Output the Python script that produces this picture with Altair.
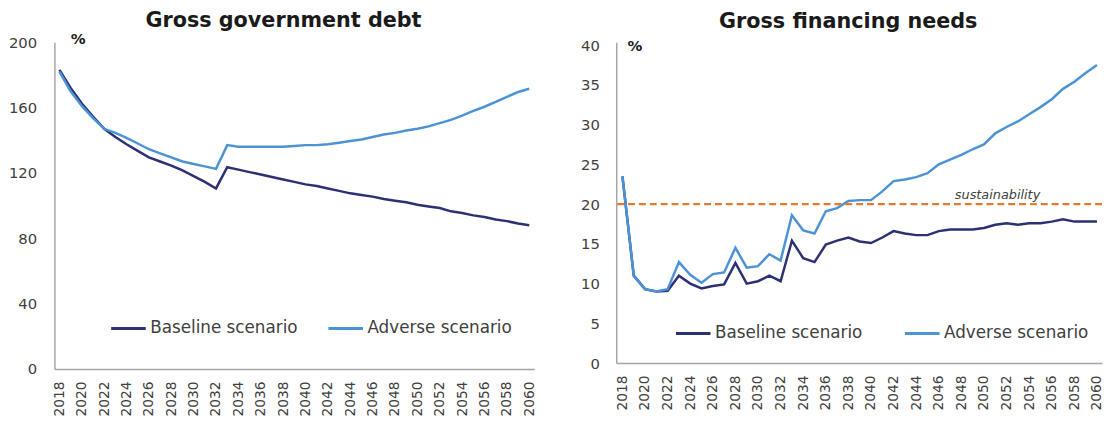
import altair as alt
import pandas as pd

years = list(range(2018, 2061))
scenarios = ["Baseline scenario", "Adverse scenario"]

debt_baseline = [183, 172, 162.5, 154.5, 147, 142, 137.5, 133.5, 129.5, 127, 124.5, 121.5, 118, 114.5, 110.5,
                 123.5, 122, 120.5, 119, 117.5, 116, 114.5, 113, 112, 110.5, 109, 107.5, 106.5, 105.5, 104,
                 103, 102, 100.5, 99.5, 98.5, 96.5, 95.5, 94, 93, 91.5, 90.5, 89, 88]
debt_adverse = [182, 170, 161, 153.5, 147, 144.5, 141.5, 138, 134.5, 132, 129.5, 127, 125.5, 124, 122.5,
                137, 136, 136, 136, 136, 136, 136.5, 137, 137, 137.5, 138.5, 139.5, 140.5, 142, 143.5,
                144.5, 146, 147, 148.5, 150.5, 152.5, 155, 158, 160.5, 163.5, 166.5, 169.5, 171.5]

gfn_baseline = [23.5, 11.0, 9.3, 9.0, 9.1, 11.0, 10.0, 9.4, 9.7, 9.9,
                12.6, 10.0, 10.3, 11.0, 10.3, 15.4, 13.2, 12.7, 14.9, 15.4,
                15.8, 15.3, 15.1, 15.8, 16.6, 16.3, 16.1, 16.1, 16.6, 16.8,
                16.8, 16.8, 17.0, 17.4, 17.6, 17.4, 17.6, 17.6, 17.8, 18.1,
                17.8, 17.8, 17.8]
gfn_adverse = [23.5, 11.0, 9.3, 9.0, 9.3, 12.7, 11.1, 10.1, 11.2, 11.4,
               14.5, 12.0, 12.2, 13.7, 12.9, 18.6, 16.7, 16.3, 19.1, 19.5,
               20.4, 20.5, 20.5, 21.6, 22.9, 23.1, 23.4, 23.9, 25.0, 25.6,
               26.2, 26.9, 27.5, 28.9, 29.7, 30.4, 31.3, 32.2, 33.2, 34.5,
               35.4, 36.5, 37.5]

sustainability_level = [20]
sustainability_label = ["sustainability"]
sustainability_label_pos = [(2051.2, 20.6)]

x_ticks = list(range(2018, 2061, 2))
debt_ticks = [0, 40, 80, 120, 160, 200]
gfn_ticks = [0, 5, 10, 15, 20, 25, 30, 35, 40]

FONT = "DejaVu Sans"
C_BASE = "#2B3173"
C_ADV = "#4C93D6"
C_ORANGE = "#E07B30"
AXIS_GRAY = "#A6A6A6"
TEXT = "#404040"
TITLE = "#1a1a1a"


def long_df(base, adv):
    rows = []
    for y, v in zip(years, base):
        rows.append({"year": y, "value": v, "scenario": scenarios[0]})
    for y, v in zip(years, adv):
        rows.append({"year": y, "value": v, "scenario": scenarios[1]})
    return pd.DataFrame(rows)


def encs(xdom, ydom, ticks, ptx, pty, ypad):
    x = alt.X("year:Q", scale=alt.Scale(domain=xdom, nice=False, zero=False),
              axis=alt.Axis(values=x_ticks, format="d", labelAngle=-90, ticks=False, grid=False,
                            domainColor=AXIS_GRAY, domainWidth=1.5, labelFontSize=14, labelColor=TEXT,
                            labelFont=FONT, labelPadding=12, title=None, labelFlush=False,
                            labelOverlap=False))
    y = alt.Y("value:Q", scale=alt.Scale(domain=ydom, nice=False, zero=True),
              axis=alt.Axis(values=ticks, ticks=False, grid=False, domainColor=AXIS_GRAY,
                            domainWidth=1.5, labelFontSize=15, labelColor=TEXT, labelFont=FONT,
                            labelPadding=ypad, title="%", titleAngle=0, titleX=ptx, titleY=pty,
                            titleAlign="left", titleBaseline="alphabetic", titleFontSize=15,
                            titleFontWeight="bold", titleFont=FONT, titleColor=TITLE))
    return x, y


def lines_layer(df, x, y, lx, ly, colpad):
    return alt.Chart(df).mark_line(strokeWidth=2.5).encode(
        x=x, y=y,
        color=alt.Color("scenario:N", sort=scenarios,
                        scale=alt.Scale(domain=scenarios, range=[C_BASE, C_ADV]),
                        legend=alt.Legend(orient="none", legendX=lx, legendY=ly, direction="horizontal",
                                          title=None, symbolType="stroke", symbolStrokeWidth=3,
                                          symbolSize=1225, labelFontSize=17, labelFont=FONT,
                                          labelColor=TEXT, columnPadding=colpad, labelOffset=3)),
        order=alt.Order("year:Q"),
    )


debt_df = long_df(debt_baseline, debt_adverse)
gfn_df = long_df(gfn_baseline, gfn_adverse)

lx_, ly_ = encs([2017.55, 2060.45], [0, 200], debt_ticks, 16, 1, 18)
left = alt.layer(lines_layer(debt_df, lx_, ly_, 56, 271, 24)).properties(
    width=486, height=331,
    title=alt.TitleParams("Gross government debt", fontSize=21, font=FONT, fontWeight="bold",
                          color=TITLE, anchor="middle", offset=0, dx=-11))

rx_, ry_ = encs([2017.45, 2060.45], [0, 40.37], gfn_ticks, 11, 8, 17)

sus_df = pd.DataFrame({"value": sustainability_level})
rule = alt.Chart(sus_df).mark_rule(color=C_ORANGE, strokeWidth=2.5, strokeDash=[7, 4]).encode(y=ry_)
lab_df = pd.DataFrame({"year": [p[0] for p in sustainability_label_pos],
                       "value": [p[1] for p in sustainability_label_pos],
                       "label": sustainability_label})
lab = alt.Chart(lab_df).mark_text(font=FONT, fontSize=13, fontStyle="italic", color=TEXT,
                                  baseline="alphabetic").encode(x=rx_, y=ry_, text="label:N")

right = alt.layer(lines_layer(gfn_df, rx_, ry_, 59, 276, 36), rule, lab).properties(
    width=492, height=325,
    title=alt.TitleParams("Gross financing needs", fontSize=21, font=FONT, fontWeight="bold",
                          color=TITLE, anchor="middle", offset=6, dx=-11))

chart = alt.hconcat(left, right, spacing=44).resolve_scale(
    color="independent", x="independent", y="independent"
).resolve_legend(color="independent").configure_view(stroke=None).properties(
    background="white", padding=0)

chart.save("out.html", embed_options={"renderer": "svg", "actions": False})
